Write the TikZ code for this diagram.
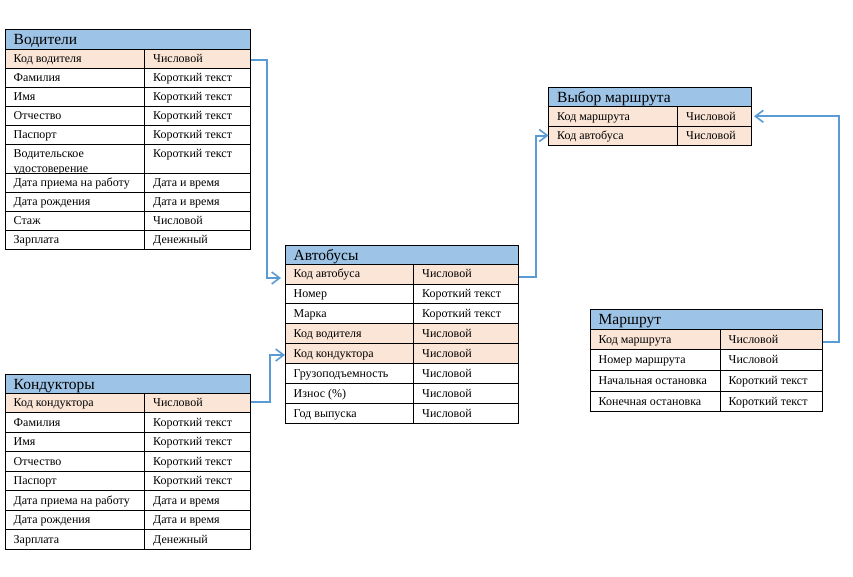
\documentclass[tikz,border=0pt]{standalone}
\usepackage{fontspec}
\setmainfont{Liberation Serif}
\usetikzlibrary{arrows.meta,calc}
\definecolor{hdrblue}{HTML}{9DC3E6}
\definecolor{keypeach}{HTML}{FBE5D6}
\definecolor{linkblue}{HTML}{5B9BD5}
\tikzset{
  cellbox/.style={draw=black, line width=0.8pt, anchor=north west, inner sep=0pt, outer sep=0pt},
  celltext/.style={anchor=base west, inner sep=0pt, font=\fontsize{12}{15}\selectfont, align=left},
  titletext/.style={anchor=base west, inner sep=0pt, font=\fontsize{15.5}{18}\selectfont},
  link/.style={draw=linkblue, line width=2pt, -{Straight Barb[length=8pt,width=12pt,line width=1.6pt]}},
}
% title bar: name, x1, x2, ytop, height, text
\newcommand\ttitle[6]{%
  \pgfmathsetmacro\myW{#3-#2}%
  \node[cellbox, fill=hdrblue, minimum width=\myW pt, minimum height=#5pt] (#1) at (#2,#4) {};
  \pgfmathsetmacro\myB{#4+#5/2+5.5}%
  \node[titletext] (#1-t) at (#2+8.5,\myB) {#6};
}
% row: name, x1, xdiv, x2, ytop, height, fill, text1, text2
\newcommand\trow[9]{%
  \pgfmathsetmacro\myWa{#3-#2}\pgfmathsetmacro\myWb{#4-#3}%
  \node[cellbox, fill=#7, minimum width=\myWa pt, minimum height=#6pt] (#1) at (#2,#5) {};
  \node[cellbox, fill=#7, minimum width=\myWb pt, minimum height=#6pt] (#1v) at (#3,#5) {};
  \pgfmathsetmacro\myBa{#6>25 ? #5+28 : #5+#6/2+3.8}%
  \pgfmathsetmacro\myBb{#6>25 ? #5+13 : #5+#6/2+3.8}%
  \node[celltext] (#1-a) at (#2+8.5,\myBa) {#8};
  \node[celltext] (#1-b) at (#3+8.5,\myBb) {#9};
}
\begin{document}
\begin{tikzpicture}[x=1pt,y=-1pt]
\useasboundingbox (0,0) rectangle (853,576);
\fill[white] (0,0) rectangle (853,576);

% Водители
\ttitle{vod}{5}{250.5}{29}{20}{Водители}
\trow{vod1}{5}{144.5}{250.5}{49}{19}{keypeach}{Код водителя}{Числовой}
\trow{vod2}{5}{144.5}{250.5}{68}{19}{white}{Фамилия}{Короткий текст}
\trow{vod3}{5}{144.5}{250.5}{87}{19}{white}{Имя}{Короткий текст}
\trow{vod4}{5}{144.5}{250.5}{106}{19}{white}{Отчество}{Короткий текст}
\trow{vod5}{5}{144.5}{250.5}{125}{19}{white}{Паспорт}{Короткий текст}
\trow{vod6}{5}{144.5}{250.5}{144}{29}{white}{Водительское\\удостоверение}{Короткий текст}
\trow{vod7}{5}{144.5}{250.5}{173}{19}{white}{Дата приема на работу}{Дата и время}
\trow{vod8}{5}{144.5}{250.5}{192}{19}{white}{Дата рождения}{Дата и время}
\trow{vod9}{5}{144.5}{250.5}{211}{19}{white}{Стаж}{Числовой}
\trow{vod10}{5}{144.5}{250.5}{230}{19}{white}{Зарплата}{Денежный}

% Кондукторы
\ttitle{kon}{5}{250.5}{374}{19.3}{Кондукторы}
\trow{kon1}{5}{144.5}{250.5}{393.3}{19.5}{keypeach}{Код кондуктора}{Числовой}
\trow{kon2}{5}{144.5}{250.5}{412.8}{19.5}{white}{Фамилия}{Короткий текст}
\trow{kon3}{5}{144.5}{250.5}{432.3}{19.5}{white}{Имя}{Короткий текст}
\trow{kon4}{5}{144.5}{250.5}{451.8}{19.5}{white}{Отчество}{Короткий текст}
\trow{kon5}{5}{144.5}{250.5}{471.3}{19.5}{white}{Паспорт}{Короткий текст}
\trow{kon6}{5}{144.5}{250.5}{490.8}{19.5}{white}{Дата приема на работу}{Дата и время}
\trow{kon7}{5}{144.5}{250.5}{510.3}{19.5}{white}{Дата рождения}{Дата и время}
\trow{kon8}{5}{144.5}{250.5}{529.8}{19.5}{white}{Зарплата}{Денежный}

% Автобусы
\ttitle{bus}{285}{518.5}{245}{19}{Автобусы}
\trow{bus1}{285}{413.5}{518.5}{264}{19.9}{keypeach}{Код автобуса}{Числовой}
\trow{bus2}{285}{413.5}{518.5}{283.9}{19.9}{white}{Номер}{Короткий текст}
\trow{bus3}{285}{413.5}{518.5}{303.8}{19.9}{white}{Марка}{Короткий текст}
\trow{bus4}{285}{413.5}{518.5}{323.7}{19.9}{keypeach}{Код водителя}{Числовой}
\trow{bus5}{285}{413.5}{518.5}{343.6}{19.9}{keypeach}{Код кондуктора}{Числовой}
\trow{bus6}{285}{413.5}{518.5}{363.5}{19.9}{white}{Грузоподъемность}{Числовой}
\trow{bus7}{285}{413.5}{518.5}{383.4}{19.9}{white}{Износ (\%)}{Числовой}
\trow{bus8}{285}{413.5}{518.5}{403.3}{19.9}{white}{Год выпуска}{Числовой}

% Выбор маршрута
\ttitle{sel}{548.5}{751}{87.3}{19.4}{Выбор маршрута}
\trow{sel1}{548.5}{677.5}{751}{106.7}{19.2}{keypeach}{Код маршрута}{Числовой}
\trow{sel2}{548.5}{677.5}{751}{125.9}{19.2}{keypeach}{Код автобуса}{Числовой}

% Маршрут
\ttitle{mar}{590}{822.5}{309}{20}{Маршрут}
\trow{mar1}{590}{720}{822.5}{329}{20.7}{keypeach}{Код маршрута}{Числовой}
\trow{mar2}{590}{720}{822.5}{349.7}{20.7}{white}{Номер маршрута}{Числовой}
\trow{mar3}{590}{720}{822.5}{370.4}{20.7}{white}{Начальная остановка}{Короткий текст}
\trow{mar4}{590}{720}{822.5}{391.1}{20.7}{white}{Конечная остановка}{Короткий текст}

% connectors
\draw[link] ($(vod1v.east)+(0,1.2)$) -- ++(16,0) |- ($(bus1.west)+(-4,4)$);
\draw[link] ($(kon1v.east)+(0,-1.3)$) -- ++(19,0) |- ($(bus5.west)+(0,1.5)$);
\draw[link] ($(bus1v.east)+(0,2.7)$) -- ++(17.5,0) |- (sel2.west);
\draw[link] ($(mar1v.east)+(0,2.5)$) -- ++(16,0) |- ($(sel1v.east)+(3,0)$);
\end{tikzpicture}
\end{document}
